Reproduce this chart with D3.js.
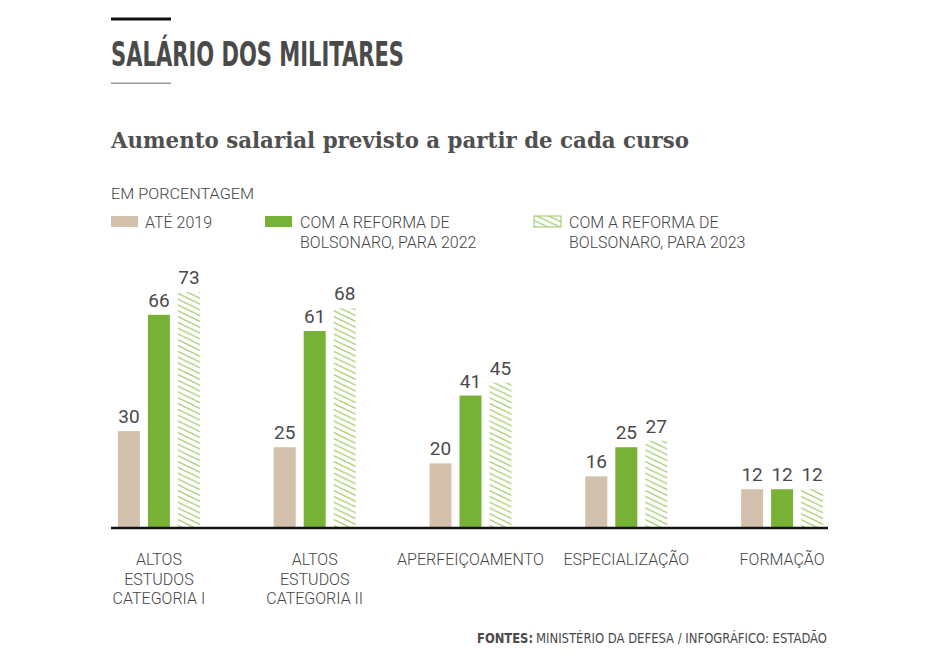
<!DOCTYPE html>
<html>
<head>
<meta charset="utf-8">
<script src="https://cdn.jsdelivr.net/npm/d3@7/dist/d3.min.js"></script>
<style>
  html, body { margin: 0; padding: 0; background: #fff; }
  svg { display: block; }
</style>
</head>
<body>
<svg id="chart" width="936" height="660"></svg>
<script>
// ---- DATA ----
const categories = ["ALTOS ESTUDOS CATEGORIA I", "ALTOS ESTUDOS CATEGORIA II", "APERFEIÇOAMENTO", "ESPECIALIZAÇÃO", "FORMAÇÃO"];
const categoryLines = [["ALTOS", "ESTUDOS", "CATEGORIA I"], ["ALTOS", "ESTUDOS", "CATEGORIA II"], ["APERFEIÇOAMENTO"], ["ESPECIALIZAÇÃO"], ["FORMAÇÃO"]];
const seriesKeys = ["ate2019", "reforma2022", "reforma2023"];
const seriesLabels = [["ATÉ 2019"], ["COM A REFORMA DE", "BOLSONARO, PARA 2022"], ["COM A REFORMA DE", "BOLSONARO, PARA 2023"]];
const ate2019 = [30, 25, 20, 16, 12];
const reforma2022 = [66, 61, 41, 25, 12];
const reforma2023 = [73, 68, 45, 27, 12];
const seriesValues = [ate2019, reforma2022, reforma2023];

// ---- STYLE ----
const TAN = "#d3c0ad", GREEN = "#77b136", HATCH = "#9cc760", TEXT = "#444";
const SANS = "Roboto, 'Noto Sans', sans-serif";
const COND = "'Liberation Sans Narrow', 'DejaVu Sans Condensed', 'Roboto', sans-serif";

const svg = d3.select("#chart");
const defs = svg.append("defs");
const pat = defs.append("pattern")
  .attr("id", "hatch").attr("patternUnits", "userSpaceOnUse")
  .attr("width", 12).attr("height", 5.8);
[-1, 0, 1].forEach(k => {
  pat.append("line")
    .attr("x1", 0).attr("y1", k * 5.8)
    .attr("x2", 12).attr("y2", k * 5.8 + 5.8)
    .attr("stroke", HATCH).attr("stroke-width", 1.1);
});

// ---- HEADER ----
svg.append("rect").attr("x", 111).attr("y", 17.5).attr("width", 60).attr("height", 3).attr("fill", "#111");
svg.append("text").attr("x", 111).attr("y", 66)
  .attr("font-family", COND).attr("font-weight", "bold").attr("font-size", 33)
  .attr("fill", "#4a4a4a").attr("textLength", 293).attr("lengthAdjust", "spacingAndGlyphs")
  .text("SALÁRIO DOS MILITARES");
svg.append("rect").attr("x", 111).attr("y", 82.5).attr("width", 60).attr("height", 1.5).attr("fill", "#9a9a9a");

svg.append("text").attr("x", 111).attr("y", 148)
  .attr("font-family", "'DejaVu Serif', 'Liberation Serif', serif").attr("font-weight", "bold").attr("font-size", 22)
  .attr("fill", "#505050").attr("textLength", 578).attr("lengthAdjust", "spacingAndGlyphs")
  .text("Aumento salarial previsto a partir de cada curso");

svg.append("text").attr("x", 111).attr("y", 199)
  .attr("font-family", SANS).attr("font-weight", 300).attr("font-size", 15)
  .attr("fill", TEXT).attr("textLength", 143).attr("lengthAdjust", "spacingAndGlyphs")
  .text("EM PORCENTAGEM");

// ---- LEGEND ----
const legendX = [111, 265, 534];
const legendFill = [TAN, GREEN, "url(#hatch)"];
seriesKeys.forEach((k, i) => {
  const g = svg.append("g").attr("transform", `translate(${legendX[i]},0)`);
  g.append("rect").attr("x", 0).attr("y", 216).attr("width", 27).attr("height", 11)
    .attr("fill", legendFill[i])
    .attr("stroke", i === 2 ? HATCH : "none").attr("stroke-width", 1);
  seriesLabels[i].forEach((line, j) => {
    g.append("text").attr("font-family", SANS).attr("font-weight", 300)
      .attr("font-size", 16).attr("fill", TEXT)
      .attr("x", i === 0 ? 34 : 35).attr("y", 228 + j * 20).text(line);
  });
});

// ---- SCALES ----
const baseY = 528;
const y = d3.scaleLinear().domain([0, 100]).range([baseY, baseY - 323]);
const x0 = d3.scaleBand().domain(categories).range([81, 860]);
const x1 = d3.scaleBand().domain(seriesKeys).range([-45, 45]).paddingInner(8 / 30).paddingOuter(4 / 30);

// ---- BARS ----
const fills = [TAN, GREEN, "url(#hatch)"];
const groups = svg.append("g").selectAll("g").data(categories).join("g")
  .attr("transform", d => `translate(${x0(d) + x0.bandwidth() / 2},0)`);

groups.each(function (cat, ci) {
  const g = d3.select(this);
  seriesKeys.forEach((k, si) => {
    const v = seriesValues[si][ci];
    g.append("rect")
      .attr("x", x1(k)).attr("width", x1.bandwidth())
      .attr("y", y(v)).attr("height", baseY - y(v))
      .attr("fill", fills[si]);
    g.append("text")
      .attr("x", x1(k) + x1.bandwidth() / 2).attr("y", y(v) - 8)
      .attr("text-anchor", "middle")
      .attr("font-family", SANS).attr("font-weight", 400).attr("font-size", 19)
      .attr("fill", "#4a4a4a")
      .text(v);
  });
  categoryLines[ci].forEach((line, j) => {
    g.append("text").attr("text-anchor", "middle")
      .attr("font-family", SANS).attr("font-weight", 300).attr("font-size", 16).attr("fill", TEXT)
      .attr("x", 0).attr("y", 565 + j * 19.5).text(line);
  });
});

// ---- AXIS LINE ----
svg.append("line").attr("x1", 111).attr("x2", 828).attr("y1", baseY).attr("y2", baseY)
  .attr("stroke", "#111").attr("stroke-width", 2.5);

// ---- FOOTER ----
svg.append("text").attr("x", 477).attr("y", 643)
  .attr("font-family", COND).attr("font-weight", "bold").attr("font-size", 14.5).attr("fill", "#4a4a4a")
  .attr("textLength", 56).attr("lengthAdjust", "spacingAndGlyphs")
  .text("FONTES:");
svg.append("text").attr("x", 827).attr("y", 643).attr("text-anchor", "end")
  .attr("font-family", COND).attr("font-size", 14.5).attr("fill", "#4a4a4a")
  .attr("textLength", 291).attr("lengthAdjust", "spacingAndGlyphs")
  .text("MINISTÉRIO DA DEFESA / INFOGRÁFICO: ESTADÃO");
</script>
</body>
</html>
